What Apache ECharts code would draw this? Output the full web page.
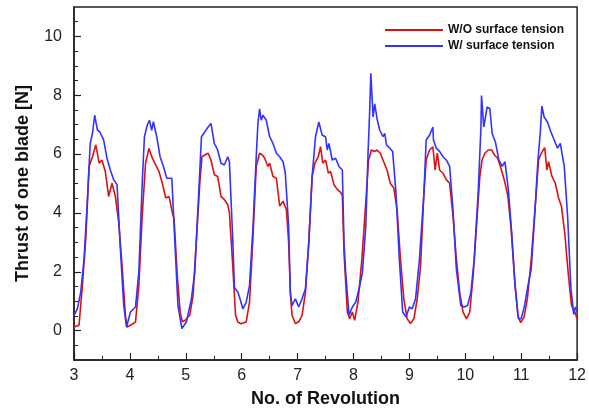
<!DOCTYPE html>
<html><head><meta charset="utf-8">
<script src="https://cdn.jsdelivr.net/npm/echarts@6/dist/echarts.min.js"></script>
<style>html,body{margin:0;padding:0;background:#fff}#c{width:589px;height:413px}</style>
</head><body><div id="c"></div>
<script>
// Revolution (x) and thrust (y) for each series
const woRev = [3.00,3.09,3.15,3.21,3.27,3.33,3.39,3.42,3.45,3.50,3.56,3.62,3.68,3.74,3.80,3.86,3.92,3.95,4.01,4.10,4.16,4.22,4.28,4.34,4.40,4.46,4.52,4.58,4.64,4.70,4.76,4.79,4.85,4.90,4.94,4.99,5.07,5.13,5.19,5.25,5.29,5.34,5.40,5.45,5.51,5.57,5.63,5.69,5.75,5.78,5.84,5.89,5.93,5.99,6.08,6.14,6.20,6.26,6.32,6.37,6.41,6.47,6.50,6.56,6.62,6.68,6.74,6.80,6.84,6.87,6.90,6.96,7.02,7.08,7.14,7.20,7.26,7.31,7.37,7.41,7.45,7.50,7.55,7.59,7.65,7.71,7.77,7.80,7.83,7.89,7.93,7.98,8.02,8.08,8.15,8.21,8.27,8.32,8.38,8.42,8.48,8.54,8.60,8.66,8.72,8.78,8.84,8.90,8.96,9.02,9.08,9.14,9.20,9.26,9.30,9.36,9.42,9.46,9.50,9.54,9.60,9.66,9.72,9.78,9.84,9.90,9.96,10.02,10.08,10.14,10.20,10.26,10.30,10.35,10.41,10.47,10.52,10.58,10.64,10.70,10.76,10.82,10.88,10.94,10.99,11.05,11.11,11.18,11.26,11.31,11.36,11.42,11.46,11.49,11.55,11.61,11.67,11.72,11.78,11.84,11.90,11.96,12.00];
const woThrust = [0.12,0.18,1.53,3.10,5.58,5.91,6.31,6.35,5.69,5.80,5.41,4.56,5.01,4.56,3.67,2.20,0.52,0.12,0.18,0.29,1.53,3.89,5.69,6.19,5.87,5.63,5.41,5.01,4.51,4.56,4.00,3.80,1.80,0.60,0.30,0.35,0.52,1.19,3.10,5.01,5.91,5.97,6.03,5.80,5.30,5.24,4.56,4.45,4.28,4.00,2.20,0.52,0.29,0.23,0.29,0.97,3.10,5.58,6.03,5.97,5.86,5.58,5.69,5.24,5.18,4.23,4.40,4.11,2.99,1.30,0.52,0.24,0.30,0.52,1.30,2.99,5.24,5.69,5.91,6.25,5.69,5.80,5.35,5.41,4.96,4.80,4.70,4.60,2.65,0.63,0.40,0.63,0.35,0.97,2.43,4.11,5.80,6.14,6.09,6.14,6.03,5.74,5.46,5.00,4.85,4.11,2.43,1.08,0.40,0.24,0.40,1.08,2.20,4.68,5.80,6.14,6.25,5.46,6.03,5.46,5.35,5.13,5.01,3.89,2.43,1.30,0.63,0.40,0.63,1.87,3.55,5.24,5.80,6.03,6.14,6.14,5.97,5.86,5.50,5.10,4.60,3.45,1.80,0.52,0.27,0.45,1.08,2.43,4.45,5.80,6.03,6.22,5.46,5.74,5.24,5.01,4.50,4.23,3.30,1.98,0.85,0.63,0.40];
const wRev = [3.00,3.06,3.12,3.18,3.24,3.29,3.33,3.37,3.42,3.46,3.53,3.59,3.65,3.71,3.77,3.83,3.89,3.94,4.01,4.10,4.16,4.22,4.26,4.31,4.35,4.39,4.42,4.48,4.54,4.60,4.66,4.75,4.81,4.86,4.93,5.01,5.10,5.16,5.22,5.28,5.34,5.40,5.45,5.51,5.57,5.63,5.69,5.75,5.78,5.84,5.87,5.90,5.93,5.96,6.02,6.08,6.14,6.20,6.26,6.29,6.32,6.35,6.38,6.44,6.50,6.56,6.62,6.68,6.74,6.78,6.84,6.87,6.90,6.96,7.02,7.08,7.14,7.20,7.26,7.32,7.38,7.44,7.50,7.53,7.56,7.62,7.68,7.74,7.80,7.83,7.86,7.92,7.98,8.04,8.10,8.16,8.22,8.26,8.29,8.31,8.35,8.38,8.42,8.47,8.53,8.56,8.59,8.65,8.70,8.76,8.82,8.88,8.94,9.00,9.05,9.11,9.18,9.26,9.30,9.36,9.42,9.43,9.48,9.54,9.60,9.66,9.72,9.78,9.84,9.92,9.98,10.04,10.10,10.16,10.23,10.28,10.29,10.33,10.39,10.44,10.48,10.54,10.60,10.66,10.71,10.77,10.83,10.89,10.95,11.00,11.06,11.12,11.18,11.24,11.30,11.34,11.37,11.41,11.47,11.53,11.59,11.65,11.70,11.77,11.83,11.89,11.94,11.97,12.00];
const wThrust = [0.52,0.74,1.30,2.43,4.45,6.36,6.70,7.32,6.81,6.76,6.48,5.86,5.46,5.13,4.96,2.77,0.85,0.12,0.63,0.80,1.98,5.01,6.59,6.98,7.15,6.81,7.10,6.59,5.91,5.58,5.18,5.18,2.77,0.85,0.07,0.29,1.08,1.98,4.23,6.59,6.76,6.92,7.04,6.36,6.14,5.69,5.63,5.91,5.74,3.10,1.47,1.42,1.31,1.14,0.74,0.96,1.53,3.44,5.91,7.04,7.54,7.15,7.32,7.15,6.59,6.36,6.03,5.91,5.74,5.35,3.55,1.30,0.85,1.08,0.80,1.08,1.42,2.99,5.24,6.59,7.09,6.64,6.59,6.14,6.36,5.80,5.86,5.58,5.46,2.99,1.98,0.52,0.80,0.97,1.42,1.98,3.55,6.03,7.49,8.75,7.26,7.71,7.21,6.81,6.59,6.70,6.31,6.20,6.09,4.68,2.43,0.63,0.46,0.80,0.74,1.08,2.43,4.68,6.48,6.64,6.92,6.48,6.20,6.09,5.91,5.80,5.58,4.11,2.09,0.85,0.80,0.85,1.30,2.43,4.68,6.92,7.99,6.92,7.60,7.54,6.70,6.40,5.80,5.58,5.74,4.79,3.33,1.53,0.40,0.40,0.85,1.53,2.10,3.89,5.80,6.70,7.63,7.26,7.09,6.76,6.48,6.20,6.36,5.58,3.89,1.42,0.55,0.80,0.65];
const seriesNames = ['W/O surface tension','W/ surface tension'];
const yTickLabels = [0,2,4,6,8,10];
const xTickLabels = [3,4,5,6,7,8,9,10,11,12];

const pair = (xs, ys) => xs.map((x, i) => [x, ys[i]]);
const yMinor = [];
for (let v = -0.5; v < 11; v += 0.5) if (!yTickLabels.includes(v)) yMinor.push(v);

const FONT = 'Liberation Sans, Arial, sans-serif';
const chart = echarts.init(document.getElementById('c'));
chart.setOption({
  animation: false,
  grid: {left: 74, top: 7, width: 505, height: 354, show: true, borderColor: '#222', borderWidth: 1.5, backgroundColor: 'transparent'},
  legend: {
    orient: 'vertical', left: 380, top: 19, itemGap: 4, itemWidth: 58, itemHeight: 2, icon: 'rect',
    data: seriesNames,
    textStyle: {fontFamily: FONT, fontSize: 12, fontWeight: 'bold', color: '#111', padding: [0,0,0,0]}
  },
  xAxis: {
    type: 'value', min: 3, max: 12, interval: 1,
    name: 'No. of Revolution', nameLocation: 'middle', nameGap: 30,
    nameTextStyle: {fontFamily: FONT, fontSize: 18, fontWeight: 'bold', color: '#111'},
    axisLine: {onZero: false, lineStyle: {color: '#222', width: 1.5}},
    axisTick: {inside: true, length: 7, lineStyle: {color: '#222', width: 1.2}},
    minorTick: {show: true, splitNumber: 2, length: 4, lineStyle: {color: '#222', width: 1}},
    axisLabel: {fontFamily: FONT, fontSize: 16, color: '#222', margin: 8, customValues: xTickLabels},
    splitLine: {show: false}
  },
  yAxis: [{
    type: 'value', min: -1, max: 11,
    name: 'Thrust of one blade [N]', nameLocation: 'middle', nameGap: 42,
    nameTextStyle: {fontFamily: FONT, fontSize: 18, fontWeight: 'bold', color: '#111'},
    axisLine: {onZero: false, lineStyle: {color: '#222', width: 1.5}},
    axisTick: {show: true, inside: true, length: 7, customValues: yTickLabels, lineStyle: {color: '#222', width: 1.2}},
    axisLabel: {fontFamily: FONT, fontSize: 16, color: '#222', margin: 12, customValues: yTickLabels},
    splitLine: {show: false}
  }, {
    type: 'value', min: -1, max: 11, position: 'left', offset: 0,
    axisLine: {show: true, onZero: false, lineStyle: {color: '#222', width: 0, opacity: 0}},
    axisTick: {show: true, inside: true, length: 4, customValues: yMinor, lineStyle: {color: '#222', width: 1}},
    axisLabel: {show: false},
    splitLine: {show: false}
  }],
  series: [
    {name: seriesNames[0], type: 'line', data: pair(woRev, woThrust), symbol: 'none', showSymbol: false,
     lineStyle: {color: '#dd1111', width: 1.6}, itemStyle: {color: '#dd1111'}},
    {name: seriesNames[1], type: 'line', data: pair(wRev, wThrust), symbol: 'none', showSymbol: false,
     lineStyle: {color: '#3333ff', width: 1.6}, itemStyle: {color: '#3333ff'}}
  ]
});
</script></body></html>
